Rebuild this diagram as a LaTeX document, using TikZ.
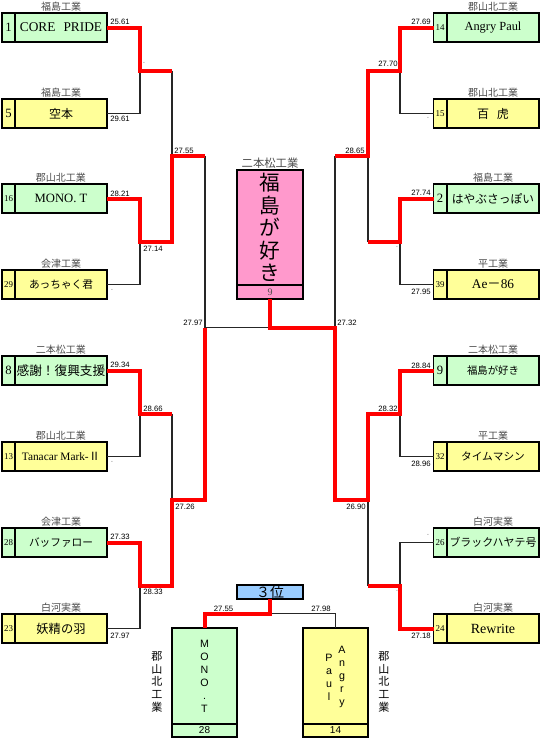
\documentclass[tikz,border=0pt]{standalone}
\usepackage{fontspec}
\setmainfont{Liberation Serif}
\newfontfamily\jp{Noto Sans CJK JP}
\newfontfamily\gth{Liberation Sans}
\newcommand\fsz[1]{\fontsize{#1}{#1}\selectfont}
\definecolor{grn}{HTML}{CCFFCC}
\definecolor{yel}{HTML}{FFFF99}
\definecolor{rosa}{HTML}{FF99CC}
\definecolor{azul}{HTML}{99CCFF}
\definecolor{verm}{HTML}{FF0000}
\tikzset{
  cell/.style={draw=black, line width=0.9pt, inner sep=0pt, outer sep=0pt},
  numcell/.style={cell, minimum width=9.75pt, minimum height=21.75pt},
  namecell/.style={cell, minimum width=69pt, minimum height=21.75pt},
  school/.style={font=\jp\fsz{7.5}, text=black!70, inner sep=0pt},
  score/.style={font=\gth\fsz{5.8}, inner sep=0pt},
  nota/.style={font=\gth\fsz{5}, text=black!45, inner sep=0pt},
  vtext/.style={align=center, inner sep=0pt},
  win/.style={verm, line width=3pt, line join=miter},
  lose/.style={black!85, line width=1pt},
}
\begin{document}
\begin{tikzpicture}[x=0.75pt, y=-0.75pt]
\useasboundingbox (0,0) rectangle (540,739);
% Equipes do lado esquerdo
\foreach \i/\y/\n/\nf/\t/\s/\c in {
  1/27.5/1/9.5/{\fsz{10}CORE\hspace{6pt}PRIDE}/福島工業/grn,
  2/113.5/5/9.5/{\jp\fsz{9}空本}/福島工業/yel,
  3/198.5/16/6.7/{\fsz{9.5}MONO.\ T}/郡山北工業/grn,
  4/284.5/29/6.7/{\jp\fsz{8}あっちゃく君}/会津工業/yel,
  5/370.5/8/9.5/{\jp\fsz{9.5}感謝！復興支援}/二本松工業/grn,
  6/456.5/13/6.7/{\fsz{8.5}Tanacar Mark-{\jp Ⅱ}}/郡山北工業/yel,
  7/542.5/28/6.7/{\jp\fsz{8}バッファロー}/会津工業/grn,
  8/628.5/23/6.7/{\jp\fsz{9.2}妖精の羽}/白河実業/yel} {
  \node[numcell, fill=\c, font=\fsz{\nf}] (Ln\i) at (8.5,\y) {\n};
  \node[namecell, fill=\c] (L\i) at (61,\y) {\t};
  \node[school] (Ls\i) at (61,\y-20.5) {\s};
}
% Equipes do lado direito
\foreach \i/\y/\n/\nf/\t/\s/\c in {
  1/27.5/14/6.7/{\fsz{9.3}Angry Paul}/郡山北工業/grn,
  2/113.5/15/6.7/{\jp\fsz{9}百\hspace{6pt}虎}/郡山北工業/yel,
  3/198.5/2/9.5/{\jp\fsz{8.8}はやぶさっぽい}/福島工業/grn,
  4/284.5/39/6.7/{\fsz{10}Ae{\jp －}86}/平工業/yel,
  5/370.5/9/9.5/{\jp\fsz{7.8}福島が好き}/二本松工業/grn,
  6/456.5/32/6.7/{\jp\fsz{8}タイムマシン}/平工業/yel,
  7/542.5/26/6.7/{\jp\fsz{8.2}ブラックハヤテ号}/白河実業/grn,
  8/628.5/24/6.7/{\fsz{10.5}Rewrite}/白河実業/yel} {
  \node[numcell, fill=\c, font=\fsz{\nf}] (Rn\i) at (440,\y) {\n};
  \node[namecell, fill=\c] (R\i) at (493,\y) {\t};
  \node[school] (Rs\i) at (493,\y-20.5) {\s};
}
% Campeao no centro
\node[school, font=\jp\fsz{8.5}] (Cs) at (270,163.5) {二本松工業};
\node[cell, fill=rosa, minimum width=49.5pt, minimum height=86.25pt, vtext,
  font=\jp\fontsize{15.5}{16.9}\selectfont] (C) at (270,227.5) {福\\島\\が\\好\\き};
\node[cell, fill=rosa, minimum width=49.5pt, minimum height=10.5pt,
  font=\fsz{7.5}, text=black!70] (Cn) at (270,292) {9};
% Pontos de juncao
\foreach \k/\y in {1/70.5, 2/241.5, 3/413.5, 4/585.5} {
  \coordinate (aL\k) at (140,\y);
  \coordinate (aR\k) at (400,\y);
}
\coordinate (bL1) at (172,156);
\coordinate (bL2) at (172,499.5);
\coordinate (bR1) at (368,156);
\coordinate (bR2) at (368,499.5);
\coordinate (cL) at (205,327.75);
\coordinate (cR) at (335,327.75);
\coordinate (F) at (270,327.75);
% Perdedores
\draw[lose] (L2.east) -| (aL1);
\draw[lose] (L4.east) -| (aL2);
\draw[lose] (L6.east) -| (aL3);
\draw[lose] (L8.east) -| (aL4);
\draw[lose] (aL1 -| bL1) -- (bL1);
\draw[lose] (aL3 -| bL2) -- (bL2);
\draw[lose] (bL1 -| cL) -- (cL) -- (F);
\draw[lose] (Rn2.west) -| (aR1);
\draw[lose] (Rn4.west) -| (aR2);
\draw[lose] (Rn6.west) -| (aR3);
\draw[lose] (Rn7.west) -| (aR4);
\draw[lose] (aR2 -| bR1) -- (bR1);
\draw[lose] (aR4 -| bR2) -- (bR2);
\draw[lose] (bR1 -| cR) -- (cR);
% Vencedores
\draw[win] (L1.east) -| (aL1) -- (aL1 -| bL1);
\draw[win] (L3.east) -| (aL2) -- (aL2 -| bL1) -- (bL1) -- (bL1 -| cL);
\draw[win] (L5.east) -| (aL3) -- (aL3 -| bL2);
\draw[win] (L7.east) -| (aL4) -- (aL4 -| bL2) -- (bL2) -- (bL2 -| cL) -- (cL);
\draw[win] (Rn1.west) -| (aR1) -- (aR1 -| bR1) -- (bR1) -- (bR1 -| cR);
\draw[win] (Rn3.west) -| (aR2) -- (aR2 -| bR1);
\draw[win] (Rn8.west) -| (aR4) -- (aR4 -| bR2);
\draw[win] (Rn5.west) -| (aR3) -- (aR3 -| bR2) -- (bR2) -- (bR2 -| cR) -- (cR) -- (F) -- (Cn.south);
% Tempos
\foreach \x/\y/\t [count=\k] in {110/24/25.61, 110/121/29.61, 110/196/28.21,
  143/251/27.14, 174/153/27.55, 110/367/29.34, 143/411/28.66, 175/509/27.26,
  110/539/27.33, 143/594/28.33, 110/638/27.97, 337/325/27.32}
  \node[score, anchor=base west] (tw\k) at (\x,\y) {\t};
\foreach \x/\y/\t [count=\k] in {431/24/27.69, 398/66/27.70, 365/153/28.65,
  431/195/27.74, 431/294/27.95, 203/325/27.97, 431/368/28.84, 398/411/28.32,
  431/466/28.96, 366/509/26.90, 431/638/27.18}
  \node[score, anchor=base east] (te\k) at (\x,\y) {\t};
\foreach \x/\y [count=\k] in {144/63, 112/290, 112/462, 428/118, 397/247, 428/535, 397/591}
  \node[nota] (tn\k) at (\x,\y) {-};
% Disputa do 3o lugar
\node[cell, fill=azul, minimum width=49.5pt, minimum height=10.5pt,
  font=\jp\fsz{10.5}] (Tb) at (270,592) {３位};
\node[cell, fill=grn, minimum width=48.75pt, minimum height=72pt, vtext,
  font=\gth\fontsize{8}{9.75}\selectfont] (T1) at (204.5,676) {M\\O\\N\\O\\.\\T};
\node[cell, fill=grn, minimum width=48.75pt, minimum height=9.75pt,
  font=\gth\fsz{7.5}] (T1n) at (204.5,730.5) {28};
\node[cell, fill=yel, minimum width=48.75pt, minimum height=72pt] (T2) at (335.5,676) {};
\node[cell, fill=yel, minimum width=48.75pt, minimum height=9.75pt,
  font=\gth\fsz{7.5}] (T2n) at (335.5,730.5) {14};
\node[vtext, font=\gth\fontsize{8}{9.75}\selectfont] (T2a) at (342,676.5) {A\\n\\g\\r\\y};
\node[vtext, font=\gth\fontsize{8}{9.75}\selectfont] (T2b) at (329,677) {P\\a\\u\\l};
\node[vtext, font=\jp\fontsize{8.3}{9.6}\selectfont] (T1s) at (157,682) {郡\\山\\北\\工\\業};
\node[vtext, font=\jp\fontsize{8.3}{9.6}\selectfont] (T2s) at (384,682) {郡\\山\\北\\工\\業};
\coordinate (tj) at (270,613.5);
\draw[lose] (tj) -| (T2.north);
\draw[win] (Tb.south) -- (tj) -| (T1.north);
\node[score, anchor=base] (t3a) at (223.5,611) {27.55};
\node[score, anchor=base] (t3b) at (321,611) {27.98};
\end{tikzpicture}
\end{document}
